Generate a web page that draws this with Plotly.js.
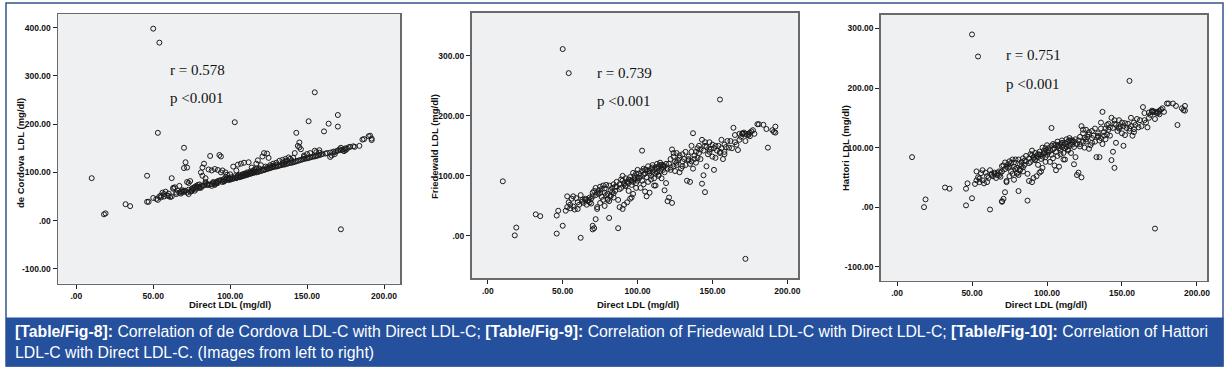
<!DOCTYPE html>
<html>
<head>
<meta charset="utf-8">
<script src="https://cdn.plot.ly/plotly-3.0.1.min.js"></script>
<style>
  html, body { margin: 0; padding: 0; background: #ffffff; }
  #chart { width: 1228px; height: 368px; }
</style>
</head>
<body>
<div id="chart"></div>
<script>
// ---------------- DATA ----------------
// Direct LDL (mg/dl) – shared x values of the three scatter plots
const directLDL = [
  10,18,19,32,35,46,46,47,50,54,53,50,62,70,71,70,72,103,155,172,81,87,151,161,164,170,170,143,145,144,
  52,53,54,55,55,56,57,57,58,59,60,60,61,62,63,63,64,65,65,66,67,67,68,68,69,69,70,70,
  71,72,72,73,73,74,74,75,75,76,76,77,77,78,78,79,79,80,80,81,81,82,82,83,83,84,84,85,85,73,75,78,80,82,84,
  86,86,87,88,88,89,89,90,90,91,91,92,92,93,93,94,94,95,95,96,96,97,97,98,98,99,99,100,100,100,88,90,92,94,96,98,91,95,97,99,
  101,101,102,102,103,103,104,104,105,105,106,106,107,107,108,108,109,109,110,110,111,111,112,112,113,113,114,114,115,115,
  116,116,117,117,118,118,119,119,120,120,104,106,108,110,112,114,116,118,105,109,113,117,107,111,115,
  121,121,122,122,123,123,124,124,125,125,126,126,127,128,128,129,130,130,131,132,132,133,134,134,135,135,136,136,137,137,
  138,138,139,139,140,140,122,124,126,128,130,134,136,
  141,141,142,143,144,145,146,146,147,148,148,149,150,150,151,152,153,154,155,156,156,157,158,158,159,160,142,145,148,152,155,158,
  162,163,165,166,167,168,169,170,171,172,172,173,174,175,175,176,177,178,180,181,184,186,187,190,191,192,192,165,168,174
];
// de Cordova LDL (mg/dl)
const deCordovaLDL = [
  88,13,15,34,30,93,39,39,398,369,182,47,88,151,121,109,110,204,266,-18,68,134,206,185,201,219,195,182,162,155,
  45,43,50,52,48,58,55,50,60,52,51,56,49,50,68,66,69,55,58,62,58,72,60,56,59,63,60,62,
  62,58,80,64,78,60,82,66,63,68,65,70,62,72,68,70,74,75,68,71,100,110,72,73,118,77,80,76,74,55,61,66,69,93,88,
  74,106,75,76,104,78,80,76,107,79,80,82,105,136,83,133,84,80,104,86,82,84,100,86,88,87,84,85,96,88,72,74,78,100,81,95,77,83,90,86,
  86,90,87,112,88,92,89,104,90,116,91,95,92,118,92,96,93,120,94,98,95,100,96,121,97,102,98,110,99,104,
  100,106,100,118,101,125,102,108,103,115,88,90,94,96,98,100,102,104,93,97,99,108,91,96,101,
  104,133,105,140,106,112,107,139,108,130,109,115,110,111,118,112,112,120,113,114,124,115,116,126,116,121,117,128,118,124,
  119,131,120,128,120,125,106,110,112,114,116,119,122,
  121,130,122,123,124,125,126,148,127,128,135,129,129,138,130,131,132,133,133,134,142,135,136,146,137,138,140,152,132,140,145,141,
  139,140,141,135,143,142,144,145,148,146,151,147,148,150,146,149,152,153,154,153,155,168,169,175,176,167,170,132,138,144
];
// Friedewald LDL (mg/dl)
const friedewaldLDL = [
  91,1,14,36,33,4,34,42,311,271,66,17,-3,11,13,17,28,142,227,-38,30,13,110,147,180,170,171,87,73,101,
  42,48,56,52,46,62,66,49,44,63,56,45,52,68,57,60,55,60,62,52,58,60,64,56,62,54,66,72,
  75,68,80,72,48,70,76,82,72,78,65,84,60,72,79,68,85,70,62,58,84,76,66,80,73,64,86,75,82,45,55,50,60,67,71,
  82,90,60,48,86,94,80,45,92,88,52,96,84,90,56,94,88,62,98,85,92,90,70,100,94,88,104,98,92,110,78,100,83,75,64,96,86,93,105,80,
  96,104,100,80,108,92,112,86,104,74,98,110,116,90,104,72,100,112,106,118,96,110,114,84,106,120,102,116,108,122,
  112,96,118,110,106,116,88,120,112,58,102,66,108,114,104,100,118,76,110,94,112,115,108,84,118,
  120,64,128,110,144,55,116,132,124,108,138,118,126,130,106,112,136,124,128,118,140,92,126,132,90,120,124,140,171,112,
  134,128,122,140,130,146,114,138,122,134,116,128,150,
  138,150,144,160,142,150,116,148,136,156,140,145,152,132,146,130,142,150,138,160,146,128,140,152,148,158,128,156,144,150,140,136,
  158,146,168,152,143,170,165,170,172,158,170,168,170,172,166,174,176,170,186,186,185,178,147,176,173,182,172,156,160,168
];
// Hattori LDL (mg/dl)
const hattoriLDL = [
  84,0,13,33,31,3,31,40,290,253,60,15,-4,10,14,9,25,133,212,-36,27,11,103,134,168,162,160,79,66,93,
  39,45,50,48,42,57,62,45,40,58,52,42,49,62,54,56,52,56,58,49,54,57,60,53,58,51,60,69,
  70,64,75,68,44,66,72,77,68,74,60,80,56,68,75,64,80,66,58,54,80,72,62,76,69,60,82,71,78,42,52,46,56,63,67,
  77,86,56,44,82,89,76,42,87,84,49,91,80,86,52,89,84,58,93,81,88,85,66,95,90,84,99,94,88,104,74,95,79,71,60,91,82,88,100,76,
  92,99,95,76,103,88,106,82,99,70,93,105,110,86,99,68,95,106,101,112,91,104,108,80,101,114,97,110,103,116,
  106,91,112,105,101,110,84,114,106,54,97,62,103,108,99,95,112,72,104,89,106,109,103,80,112,
  112,58,118,102,136,50,110,124,116,100,130,110,118,122,98,104,128,116,120,110,132,84,118,124,84,112,116,132,160,106,
  126,120,114,132,122,138,106,130,114,126,108,120,142,
  130,140,134,150,133,140,108,138,128,146,132,136,142,124,136,121,133,140,128,150,136,120,131,142,138,148,120,146,134,141,132,126,
  146,136,158,142,134,159,155,160,161,148,160,158,160,162,156,164,166,160,174,174,174,170,138,166,163,170,162,146,150,158
];

// Tick values / labels
const xTickVals = [0, 50, 100, 150, 200];
const xTickText = ['.00', '50.00', '100.00', '150.00', '200.00'];
const yTickValsDC = [-100, 0, 100, 200, 300, 400];
const yTickTextDC = ['-100.00', '.00', '100.00', '200.00', '300.00', '400.00'];
const yTickValsFW = [0, 100, 200, 300];
const yTickTextFW = ['.00', '100.00', '200.00', '300.00'];
const yTickValsHT = [-100, 0, 100, 200, 300];
const yTickTextHT = ['-100.00', '.00', '100.00', '200.00', '300.00'];

// Text
const xTitle = 'Direct LDL (mg/dl)';
const yTitles = ['de Cordova  LDL (mg/dl)', 'Friedewald LDL (mg/dl)', 'Hattori LDL (mg/dl)'];
const rTexts = ['r = 0.578', 'r = 0.739', 'r = 0.751'];
const pTexts = ['p &lt;0.001', 'p &lt;0.001', 'p &lt;0.001'];
const captionLine1 = '<b>[Table/Fig-8]:</b> Correlation of de Cordova LDL-C with Direct LDL-C; <b>[Table/Fig-9]:</b> Correlation of Friedewald LDL-C with Direct LDL-C; <b>[Table/Fig-10]:</b> Correlation of Hattori';
const captionLine2 = 'LDL-C with Direct LDL-C. (Images from left to right)';

// ---------------- LAYOUT ----------------
const W = 1228, H = 368;
const fx = v => v / W;
const fy = v => 1 - v / H;

const panels = [
  { l: 58,    r: 400,   t: 14,   b: 283.5, xr: [-11.9, 210.4], yr: [-130.4, 428.4],
    tv: yTickValsDC, tt: yTickTextDC, y: deCordovaLDL,
    ytx: 20, yty: 153, xtx: 229.5, rx: 168, ry: 70, py: 98 },
  { l: 471.5, r: 798,   t: 12.7, b: 278.3, xr: [-10.9, 207.1], yr: [-70.4, 371.5],
    tv: yTickValsFW, tt: yTickTextFW, y: friedewaldLDL,
    ytx: 435, yty: 147, xtx: 638, rx: 595, ry: 72.5, py: 101.5 },
  { l: 880.7, r: 1207.3, t: 14.5, b: 280.7, xr: [-10.9, 206.9], yr: [-123.5, 323.5],
    tv: yTickValsHT, tt: yTickTextHT, y: hattoriLDL,
    ytx: 845, yty: 148, xtx: 1045.5, rx: 1004, ry: 55, py: 83.5 }
];

const tickFont = { family: 'Liberation Sans, Arial, sans-serif', size: 8.5, color: '#111', weight: 'bold' };
const data = [];
const layout = {
  width: W, height: H,
  margin: { l: 0, r: 0, t: 0, b: 0, pad: 0 },
  paper_bgcolor: '#ffffff',
  plot_bgcolor: '#eff0f2',
  showlegend: false,
  annotations: [],
  shapes: []
};

panels.forEach((p, i) => {
  const n = i === 0 ? '' : String(i + 1);
  data.push({
    type: 'scatter', mode: 'markers',
    x: directLDL, y: p.y,
    xaxis: 'x' + n, yaxis: 'y' + n,
    marker: { symbol: 'circle-open', size: 5, color: '#1c1c1c', line: { width: 1 } },
    hoverinfo: 'x+y'
  });
  const axCommon = {
    showgrid: false, zeroline: false,
    showline: true, mirror: true, linecolor: '#6a6a6a', linewidth: 1.5,
    ticks: 'outside', ticklen: 4, tickwidth: 1, tickcolor: '#222',
    tickfont: tickFont, fixedrange: true
  };
  layout['xaxis' + n] = Object.assign({}, axCommon, {
    domain: [fx(p.l), fx(p.r)], range: p.xr, anchor: 'y' + n,
    tickmode: 'array', tickvals: xTickVals, ticktext: xTickText
  });
  layout['yaxis' + n] = Object.assign({}, axCommon, {
    domain: [fy(p.b), fy(p.t)], range: p.yr, anchor: 'x' + n,
    tickmode: 'array', tickvals: p.tv, ticktext: p.tt
  });
  // axis titles
  layout.annotations.push({
    xref: 'paper', yref: 'paper', x: fx(p.xtx), y: fy(304),
    xanchor: 'center', yanchor: 'middle', showarrow: false,
    text: '<b>' + xTitle + '</b>',
    font: { family: 'Liberation Sans, Arial, sans-serif', size: 9.5, color: '#111' }
  });
  layout.annotations.push({
    xref: 'paper', yref: 'paper', x: fx(p.ytx), y: fy(p.yty),
    xanchor: 'center', yanchor: 'middle', showarrow: false, textangle: -90,
    text: '<b>' + yTitles[i] + '</b>',
    font: { family: 'Liberation Sans, Arial, sans-serif', size: 9.5, color: '#111' }
  });
  // statistics text
  layout.annotations.push({
    xref: 'paper', yref: 'paper', x: fx(p.rx), y: fy(p.ry),
    xanchor: 'left', yanchor: 'middle', showarrow: false,
    text: rTexts[i],
    font: { family: 'Liberation Serif, Times New Roman, serif', size: 15, color: '#111' }
  });
  layout.annotations.push({
    xref: 'paper', yref: 'paper', x: fx(p.rx), y: fy(p.py),
    xanchor: 'left', yanchor: 'middle', showarrow: false,
    text: pTexts[i],
    font: { family: 'Liberation Serif, Times New Roman, serif', size: 15, color: '#111' }
  });
});

// outer frame and caption bar
layout.shapes.push({
  type: 'rect', xref: 'paper', yref: 'paper', layer: 'below',
  x0: fx(6), x1: fx(1223), y0: fy(366), y1: fy(3),
  line: { color: '#34568f', width: 1.5 }, fillcolor: 'rgba(0,0,0,0)'
});
layout.shapes.push({
  type: 'rect', xref: 'paper', yref: 'paper', layer: 'above',
  x0: fx(6), x1: fx(1223.5), y0: fy(366.5), y1: fy(317.5),
  line: { width: 0 }, fillcolor: '#24509e'
});
layout.annotations.push({
  xref: 'paper', yref: 'paper', x: fx(13), y: fy(331.5),
  xanchor: 'left', yanchor: 'middle', showarrow: false, align: 'left',
  text: captionLine1,
  font: { family: 'Liberation Sans, Arial, sans-serif', size: 15.8, color: '#ffffff' }
});
layout.annotations.push({
  xref: 'paper', yref: 'paper', x: fx(13), y: fy(352),
  xanchor: 'left', yanchor: 'middle', showarrow: false, align: 'left',
  text: captionLine2,
  font: { family: 'Liberation Sans, Arial, sans-serif', size: 15.8, color: '#ffffff' }
});

Plotly.newPlot('chart', data, layout, { staticPlot: true, displayModeBar: false });
</script>
</body>
</html>
